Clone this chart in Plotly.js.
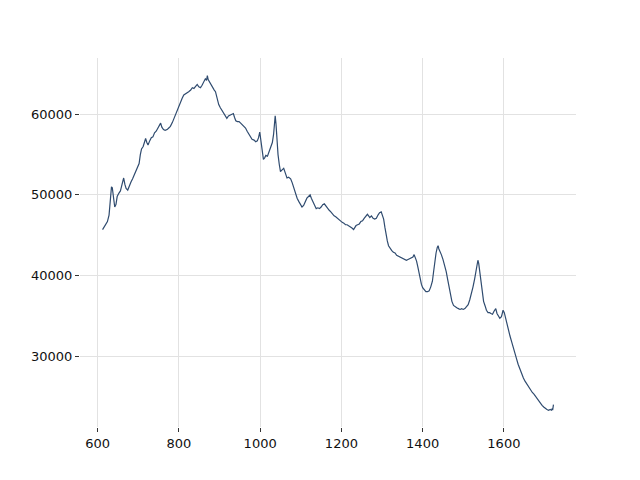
<!DOCTYPE html>
<html>
<head>
<meta charset="utf-8">
<script src="https://cdn.plot.ly/plotly-3.0.1.min.js"></script>
<style>html,body{margin:0;padding:0;background:#fff;}#chart{width:640px;height:480px;}</style>
</head>
<body>
<div id="chart"></div>
<script>
const wavenumber = [612,616,620,624,628,631,634,636,639,642,645,648,652,656,660,664,667,670,674,678,682,686,690,694,698,702,705,708,712,715,718,721,724,728,732,736,740,744,748,752,755,758,762,766,771,775,779,784,788,792,796,800,804,808,812,816,820,824,829,833,837,841,845,849,853,857,861,865,868,870,872,874,877,880,884,887,890,894,898,902,907,911,915,918,922,926,930,934,937,940,944,948,952,956,960,964,968,972,976,980,985,989,993,996,999,1002,1005,1008,1011,1014,1018,1022,1026,1030,1033,1035,1037,1039,1041,1044,1047,1050,1054,1058,1062,1066,1070,1075,1079,1083,1087,1091,1095,1099,1103,1107,1111,1115,1119,1123,1126,1130,1134,1138,1142,1146,1150,1154,1158,1162,1166,1170,1174,1178,1182,1186,1190,1194,1198,1202,1206,1210,1214,1218,1222,1226,1230,1233,1236,1240,1244,1248,1252,1256,1260,1264,1267,1270,1274,1278,1282,1286,1290,1294,1298,1301,1304,1307,1310,1313,1316,1320,1324,1328,1332,1336,1340,1344,1348,1352,1356,1360,1364,1368,1372,1376,1379,1382,1385,1388,1391,1394,1397,1400,1404,1408,1412,1416,1420,1424,1427,1430,1433,1436,1438,1440,1443,1446,1450,1454,1458,1462,1466,1469,1472,1476,1480,1484,1488,1492,1496,1500,1504,1508,1512,1516,1520,1524,1528,1531,1534,1536,1538,1541,1544,1547,1550,1554,1557,1561,1565,1568,1572,1576,1580,1583,1587,1590,1594,1598,1601,1604,1607,1611,1615,1619,1623,1627,1631,1635,1640,1644,1648,1652,1657,1661,1665,1670,1674,1678,1682,1686,1690,1694,1698,1702,1706,1710,1714,1717,1719,1720,1722];
const intensity = [45700,46100,46400,46700,47500,49000,51000,50900,49600,48500,48800,49800,50200,50500,51300,52100,51300,50800,50600,51200,51600,52000,52500,52800,53300,53900,55000,55700,56000,56700,57000,56500,56200,56700,57100,57200,57700,57900,58300,58500,58900,58400,58100,58000,58100,58300,58500,59000,59500,60100,60700,61200,61600,62000,62400,62500,62700,62800,63000,63300,63200,63500,63700,63400,63300,63600,64100,64400,64200,64800,64300,64100,63800,63500,63300,63000,62800,62000,61200,60800,60400,60100,59700,59500,59800,59900,59900,60100,59600,59200,59100,59100,58900,58700,58500,58300,57900,57500,57100,56900,56800,56600,56700,57100,57800,56500,55400,54400,54600,54900,54800,55300,55800,56500,57500,59000,59800,58800,56800,55000,53800,52900,53100,53300,52700,52100,52200,52000,51500,50800,50200,49600,49200,48800,48500,48700,49200,49600,49800,50000,49600,49200,48600,48300,48400,48300,48500,48800,48900,48600,48300,48100,47900,47600,47400,47300,47100,47000,46800,46600,46500,46300,46300,46200,46000,45900,45700,45900,46200,46300,46400,46700,46800,47100,47300,47600,47400,47200,47400,47100,47000,47100,47500,47800,47900,47500,47000,46000,45000,44300,43700,43300,43100,42900,42800,42500,42400,42200,42100,42000,42000,41900,42000,42100,42100,42300,42600,42300,41800,41100,40200,39400,38900,38500,38300,38000,38000,38100,38600,39300,40500,41800,42800,43500,43700,43300,43000,42600,42000,41300,40500,39400,38200,37400,36800,36300,36100,36000,35900,35800,35900,35800,35900,36100,36400,37000,37700,38600,39600,40600,41500,41900,41500,40200,39000,37800,36800,36200,35700,35400,35400,35300,35200,35600,35900,35300,35000,34700,34900,35700,35400,34700,34000,33200,32500,31800,31000,30300,29700,29000,28300,27800,27300,26900,26500,26100,25800,25500,25300,25000,24700,24400,24100,23900,23700,23500,23400,23300,23400,23300,23500,23300,24000];
const xTicks = [600,800,1000,1200,1400,1600];
const yTicks = [30000,40000,50000,60000];

const trace = {
  x: wavenumber, y: intensity, type: 'scatter', mode: 'lines',
  line: {color: '#2f4b6f', width: 1.2}, hoverinfo: 'skip'
};
const axisCommon = {
  showline: false, zeroline: false, showgrid: true, gridcolor: '#e2e2e2', gridwidth: 1,
  ticks: 'outside', ticklen: 4, tickwidth: 1, tickcolor: '#333',
  tickfont: {family: 'DejaVu Sans', size: 13, color: '#111'}
};
const layout = {
  width: 640, height: 480,
  margin: {l: 80, r: 64, t: 58, b: 53},
  paper_bgcolor: '#fff', plot_bgcolor: '#fff',
  showlegend: false,
  xaxis: Object.assign({}, axisCommon, {range: [556.5, 1777.5], tickvals: xTicks, ticktext: xTicks.map(String)}),
  yaxis: Object.assign({}, axisCommon, {range: [21220, 66980], tickvals: yTicks, ticktext: yTicks.map(String)})
};
Plotly.newPlot('chart', [trace], layout, {staticPlot: true, displayModeBar: false});
</script>
</body>
</html>
